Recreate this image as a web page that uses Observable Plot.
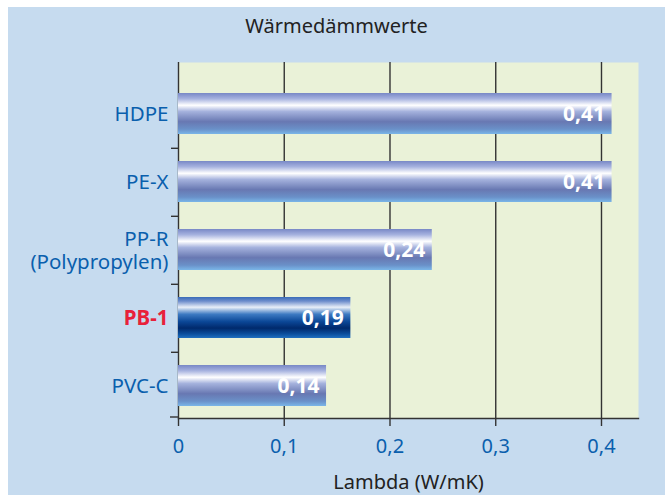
<!DOCTYPE html>
<html><head><meta charset="utf-8">
<script src="https://cdn.jsdelivr.net/npm/d3@7"></script>
<script src="https://cdn.jsdelivr.net/npm/@observablehq/plot@0.6"></script>
<style>
body{margin:0;background:#fff;font-family:"Noto Sans",sans-serif}
#wrap{position:absolute;left:8px;top:7px;width:657px;height:488px;background:#c6dbef;overflow:hidden}
#title{position:absolute;left:0;top:7px;width:657px;text-align:center;font-size:20px;line-height:24px;color:#222}
#chart{position:absolute;left:0;top:40px}
</style></head><body>
<div id="wrap"><div id="title">Wärmedämmwerte</div><div id="chart"></div></div>
<script>
const materials = ["HDPE", "PE-X", "PP-R\n(Polypropylen)", "PB-1", "PVC-C"];
const lambdaBars = [0.41, 0.41, 0.24, 0.163, 0.14];
const valueLabels = ["0,41", "0,41", "0,24", "0,19", "0,14"];
const xTicks = [0, 0.1, 0.2, 0.3, 0.4];
const highlighted = "PB-1";
const axisTitle = "Lambda (W/mK)";

const data = materials.map((m, i) => ({material: m, value: lambdaBars[i], label: valueLabels[i]}));
const blue = "#0a5fad";
const dark = "#333";

const chart = Plot.plot({
  width: 657, height: 448,
  marginLeft: 170, marginRight: 27, marginTop: 15, marginBottom: 77,
  style: {fontFamily: "Noto Sans, sans-serif", fontSize: "20px", background: "transparent", overflow: "visible"},
  x: {domain: [0, 0.435]},
  y: {domain: materials, range: [31.7, 374.7], paddingInner: 0.39, paddingOuter: 0.195},
  marks: [
    Plot.frame({fill: "#eaf2d8", stroke: "none"}),
    Plot.gridX(xTicks, {stroke: dark, strokeOpacity: 1, strokeWidth: 1.4}),
    Plot.barX(data.filter(d => d.material !== highlighted), {x: "value", y: "material", fill: "url(#gradLight)"}),
    Plot.barX(data.filter(d => d.material === highlighted), {x: "value", y: "material", fill: "url(#gradDark)"}),
    Plot.text(data, {x: "value", y: "material", text: "label", textAnchor: "end", dx: -7, fill: "white", fontWeight: "bold", fontSize: 21}),
    Plot.frame({anchor: "bottom", stroke: dark, strokeWidth: 1.4}),
    Plot.axisX({ticks: xTicks, tickSize: 8, tickPadding: 12, tickFormat: d => String(d).replace(".", ","), fill: blue, stroke: dark, strokeWidth: 1.4, fontSize: 20, label: null}),
    Plot.axisY({ticks: materials.filter(m => m !== highlighted), tickSize: 0, tickPadding: 10, fill: blue, fontSize: 20.5, lineHeight: 1.12, label: null}),
    Plot.axisY({ticks: [highlighted], tickSize: 0, tickPadding: 10, fill: "#e8213a", fontWeight: "bold", fontSize: 20.5, label: null}),
    Plot.axisY({ticks: materials.slice(0, 4), tickSize: 7, tickFormat: () => "", stroke: dark, strokeWidth: 1.4, dy: 34.3, label: null}),
    Plot.axisY({ticks: materials.slice(4), tickSize: 8, tickFormat: () => "", stroke: dark, strokeWidth: 1.4, dy: 31, label: null}),
    Plot.text([axisTitle], {frameAnchor: "bottom", dy: 64, text: d => d, fill: "#222", fontSize: 20, lineAnchor: "middle"})
  ]
});

const defs = d3.select(chart).insert("defs", ":first-child");
function grad(id, stops) {
  const g = defs.append("linearGradient").attr("id", id).attr("x1", 0).attr("y1", 0).attr("x2", 0).attr("y2", 1);
  stops.forEach(([o, c]) => g.append("stop").attr("offset", o).attr("stop-color", c));
}
grad("gradLight", [[0, "#7888c6"], [0.14, "#a6b2df"], [0.3, "#ffffff"], [0.45, "#a5b2dd"], [0.7, "#6878b2"], [0.88, "#6a90c8"], [1, "#7ab6e8"]]);
grad("gradDark", [[0, "#3a6cb8"], [0.1, "#6c8ccb"], [0.25, "#e8eef8"], [0.42, "#3d7ac2"], [0.6, "#0b4797"], [0.76, "#00296c"], [0.9, "#0b4f9d"], [1, "#2070c0"]]);

document.getElementById("chart").append(chart);
</script>
</body></html>
